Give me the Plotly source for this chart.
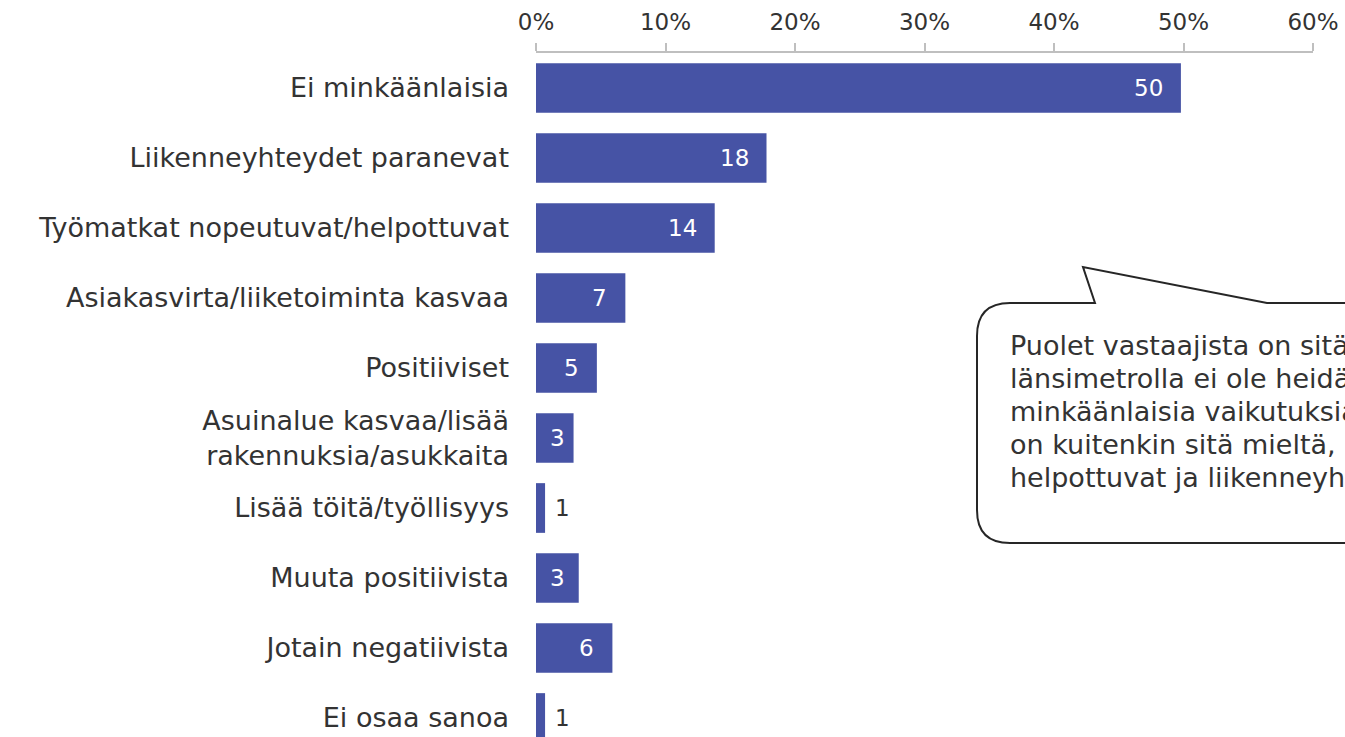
import plotly.graph_objects as go

categories = [
    "Ei minkäänlaisia",
    "Liikenneyhteydet paranevat",
    "Työmatkat nopeutuvat/helpottuvat",
    "Asiakasvirta/liiketoiminta kasvaa",
    "Positiiviset",
    "Asuinalue kasvaa/lisää<br>rakennuksia/asukkaita",
    "Lisää töitä/työllisyys",
    "Muuta positiivista",
    "Jotain negatiivista",
    "Ei osaa sanoa",
]
values = [0.498, 0.178, 0.138, 0.069, 0.047, 0.029, 0.007, 0.033, 0.059, 0.007]
value_labels = ["50", "18", "14", "7", "5", "3", "1", "3", "6", "1"]
x_ticks = [0, 0.1, 0.2, 0.3, 0.4, 0.5, 0.6]
x_tick_labels = ["0%", "10%", "20%", "30%", "40%", "50%", "60%"]
callout_lines = [
    "Puolet vastaajista on sitä mieltä, että",
    "länsimetrolla ei ole heidän kannaltaan",
    "minkäänlaisia vaikutuksia. Osa vastaajista",
    "on kuitenkin sitä mieltä, että työmatkat",
    "helpottuvat ja liikenneyhteydet paranevat.",
]

FONT = "DejaVu Sans"
BAR = "#4653A5"
TXT = "#333333"
W, H = 1345, 737
L, R, T, B = 536, W - 1313, 53, 0
PLOT_W = W - L - R
X_MAX = 0.6
ROW = 70
y_bottom = -0.5 + (H - T - B) / ROW

fig = go.Figure()
fig.add_trace(go.Bar(
    y=categories, x=values, orientation="h",
    marker=dict(color=BAR, line=dict(width=0)),
    width=0.71, hoverinfo="skip",
))

for cat, v, lab in zip(categories, values, value_labels):
    bar_px = v / X_MAX * PLOT_W
    text_w = 14 * len(lab)
    inside = bar_px > 17 + text_w
    if inside:
        shift = -min(16, max(0, bar_px - 17 - text_w))
        fig.add_annotation(
            x=v, y=cat, xref="x", yref="y", text=lab, showarrow=False,
            xanchor="right", xshift=shift,
            font=dict(family=FONT, size=23, color="white"),
        )
    else:
        fig.add_annotation(
            x=v, y=cat, xref="x", yref="y", text=lab, showarrow=False,
            xanchor="left", xshift=8,
            font=dict(family=FONT, size=23, color=TXT),
        )

def px(xp):
    return (xp - L) / PLOT_W

def py(yp):
    return (H - B - yp) / (H - T - B)

r = 33
pts = [
    f"M {px(1095)} {py(303)}",
    f"L {px(1083)} {py(267)}",
    f"L {px(1267)} {py(303)}",
    f"L {px(1420)} {py(303)}",
    f"L {px(1420)} {py(543)}",
    f"L {px(977 + r)} {py(543)}",
    f"Q {px(977)} {py(543)} {px(977)} {py(543 - r)}",
    f"L {px(977)} {py(303 + r)}",
    f"Q {px(977)} {py(303)} {px(977 + r)} {py(303)}",
    "Z",
]
fig.add_shape(type="path", xref="paper", yref="paper", path=" ".join(pts),
              line=dict(color="#262626", width=2), fillcolor="white", layer="above")

for i, line in enumerate(callout_lines):
    fig.add_annotation(
        x=px(1008), y=py(345 + 33 * i), xref="paper", yref="paper",
        xanchor="left", yanchor="middle", align="left", showarrow=False,
        text=line, font=dict(family=FONT, size=27, color=TXT),
    )

fig.update_layout(
    width=W, height=H,
    margin=dict(l=L, r=R, t=T, b=B, pad=0, autoexpand=False),
    paper_bgcolor="white", plot_bgcolor="white",
    showlegend=False,
    font=dict(family=FONT, size=27, color=TXT),
)
fig.update_xaxes(
    side="top", range=[0, X_MAX], tickvals=x_ticks, ticktext=x_tick_labels,
    showgrid=False, zeroline=False, showline=True, linecolor="#BFBFBF", linewidth=2,
    ticks="outside", ticklen=8, tickcolor="#BFBFBF", tickwidth=2,
    tickfont=dict(family=FONT, size=23, color=TXT), ticklabelstandoff=4,
    ticklabeloverflow="allow", automargin=False, fixedrange=True,
)
fig.update_yaxes(
    type="category", categoryorder="array", categoryarray=categories,
    range=[y_bottom, -0.5], showgrid=False, zeroline=False, showline=False,
    ticks="", ticklabelstandoff=26, automargin=False,
    tickfont=dict(family=FONT, size=27, color=TXT), fixedrange=True,
)

fig.write_html(
    "out.html",
    config={"displayModeBar": False},
    post_script="document.body.style.margin='0';document.body.style.overflow='hidden';",
)
